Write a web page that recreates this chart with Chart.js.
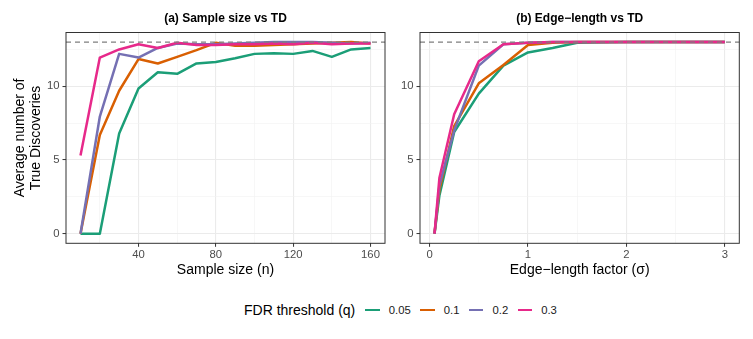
<!DOCTYPE html>
<html>
<head>
<meta charset="utf-8">
<script src="https://cdn.jsdelivr.net/npm/chart.js@4"></script>
<style>
	body { margin: 0; background: #fff; width: 753px; height: 339px; position: relative; overflow: hidden; font-family: "Liberation Sans", Arial, sans-serif; }
	#graph_sample { position: absolute; left: 0; top: 0; }
	#graph_edge { position: absolute; left: 395px; top: 0; }
	#legend { position: absolute; left: 244px; top: 301px; height: 18px; display: flex; align-items: center; white-space: nowrap; color: #000; }
	#legend .title { font-size: 14px; margin-right: 10px; }
	#legend .key { width: 14.5px; height: 2.6px; margin-right: 9px; }
	#legend .lab { font-size: 11.3px; margin-right: 9.5px; color: #1a1a1a; }
</style>
</head>
<body>
<canvas id="graph_sample" width="395" height="290"></canvas>
<canvas id="graph_edge" width="358" height="290"></canvas>
<div id="legend"></div>
<script>
// thresholds + colours (Dark2)
var fdrLevels = ["0.05", "0.1", "0.2", "0.3"];
var fdrColors = ["#1B9E77", "#D95F02", "#7570B3", "#E7298A"];
var trueDiscoveries = 13;

// (a) sample size
var sampleSizes = [10, 20, 30, 40, 50, 60, 70, 80, 90, 100, 110, 120, 130, 140, 150, 160];
var tdSample005 = [0, 0, 6.8, 9.85, 10.95, 10.85, 11.55, 11.65, 11.9, 12.2, 12.25, 12.2, 12.4, 12.0, 12.5, 12.6];
var tdSample01 = [0, 6.7, 9.7, 11.85, 11.55, 12.0, 12.45, 12.95, 12.75, 12.75, 12.8, 12.85, 12.9, 12.95, 13.0, 12.9];
var tdSample02 = [0, 7.95, 12.2, 11.95, 12.6, 12.9, 12.85, 12.85, 12.9, 12.95, 13.0, 13.0, 13.0, 12.95, 12.9, 12.95];
var tdSample03 = [5.3, 11.95, 12.5, 12.85, 12.6, 12.95, 12.8, 12.8, 12.85, 12.85, 12.9, 12.85, 12.95, 12.85, 12.9, 12.9];

// (b) edge-length factor
var edgeFactors = [0.05, 0.1, 0.25, 0.5, 0.75, 1, 1.25, 1.5, 2, 2.5, 3];
var tdEdge005 = [0, 2.6, 6.9, 9.5, 11.4, 12.3, 12.6, 12.95, 13, 13, 13];
var tdEdge01 = [0, 3.0, 7.3, 10.2, 11.45, 12.8, 12.95, 13, 13, 13, 13];
var tdEdge02 = [0, 3.3, 7.0, 11.4, 12.85, 12.95, 13, 13, 13, 13, 13];
var tdEdge03 = [0, 3.8, 8.1, 11.7, 12.85, 12.95, 13, 13, 13, 13, 13];

// ticks (major ones get labels)
var sampleTicks = [20, 40, 60, 80, 100, 120, 140, 160];
var sampleLabels = [40, 80, 120, 160];
var edgeTicks = [0, 0.5, 1, 1.5, 2, 2.5, 3];
var edgeLabels = [0, 1, 2, 3];
var tdTicks = [0, 2.5, 5, 7.5, 10, 12.5];
var tdLabels = [0, 5, 10];

var FONT = '"Liberation Sans", Arial, sans-serif';

function makeDatasets(xs, series){
	return series.map(function(ys, i){
		return {
			label: fdrLevels[i],
			data: xs.map(function(x, k){ return {x: x, y: ys[k]}; }),
			borderColor: fdrColors[i],
			backgroundColor: fdrColors[i],
			borderWidth: 2.5,
			borderJoinStyle: 'round',
			pointRadius: 0,
			fill: false,
			order: series.length - 1 - i
		};
	});
}

function isMajor(list, v){
	return list.some(function(m){ return Math.abs(m - v) < 1e-9; });
}

function gridOpts(majors){
	return {
		color: function(ctx){ return isMajor(majors, ctx.tick ? ctx.tick.value : NaN) ? '#EBEBEB' : '#F2F2F2'; },
		lineWidth: function(ctx){ return isMajor(majors, ctx.tick ? ctx.tick.value : NaN) ? 1.1 : 0.6; },
		tickColor: function(ctx){ return isMajor(majors, ctx.tick ? ctx.tick.value : NaN) ? '#333333' : 'rgba(0,0,0,0)'; },
		tickLength: 3.5,
		tickWidth: 1
	};
}

// dashed reference line + panel border
var panelExtras = {
	id: 'panelExtras',
	afterDatasetsDraw: function(chart){
		var ctx = chart.ctx, a = chart.chartArea;
		var y = chart.scales.y.getPixelForValue(trueDiscoveries);
		ctx.save();
		ctx.strokeStyle = '#7F7F7F';
		ctx.lineWidth = 1.2;
		ctx.setLineDash([5, 4]);
		ctx.beginPath();
		ctx.moveTo(a.left, y);
		ctx.lineTo(a.right, y);
		ctx.stroke();
		ctx.restore();
	},
	afterDraw: function(chart){
		var ctx = chart.ctx, a = chart.chartArea;
		ctx.save();
		ctx.strokeStyle = '#333333';
		ctx.lineWidth = 1;
		ctx.strokeRect(a.left, a.top, a.right - a.left, a.bottom - a.top);
		ctx.restore();
	}
};

function makeConfig(opt){
	return {
		type: 'line',
		data: { datasets: makeDatasets(opt.xs, opt.series) },
		options: {
			responsive: false,
			animation: false,
			devicePixelRatio: 1,
			layout: { padding: { left: 0, right: opt.rightPad, top: 0, bottom: 0 } },
			scales: {
				x: {
					type: 'linear',
					min: opt.xMin,
					max: opt.xMax,
					afterBuildTicks: function(s){ s.ticks = opt.xTicks.map(function(v){ return {value: v}; }); },
					afterFit: function(s){ s.height = 290 - 243.3; },
					ticks: {
						autoSkip: false,
						maxRotation: 0,
						padding: 1.5,
						color: '#4D4D4D',
						font: { family: FONT, size: 11.3 },
						callback: function(v){ return isMajor(opt.xLabels, v) ? String(v) : ''; }
					},
					grid: gridOpts(opt.xLabels),
					border: { display: false },
					title: {
						display: true,
						text: opt.xTitle,
						color: '#000',
						font: { family: FONT, size: 14 },
						padding: { top: 0, bottom: 11.6 }
					}
				},
				y: {
					type: 'linear',
					min: -0.65,
					max: 13.65,
					afterBuildTicks: function(s){ s.ticks = tdTicks.map(function(v){ return {value: v}; }); },
					afterFit: function(s){ s.width = opt.yWidth; },
					ticks: {
						padding: 3,
						color: '#4D4D4D',
						font: { family: FONT, size: 11.3 },
						callback: function(v){ return isMajor(tdLabels, v) ? String(v) : ''; }
					},
					grid: gridOpts(tdLabels),
					border: { display: false },
					title: {
						display: opt.yTitle != null,
						text: opt.yTitle || '',
						color: '#000',
						font: { family: FONT, size: 14, lineHeight: 1.12 },
						padding: { top: 12.5, bottom: 0 }
					}
				}
			},
			plugins: {
				legend: { display: false },
				tooltip: { enabled: false },
				title: {
					display: true,
					text: opt.title,
					fullSize: false,
					color: '#000',
					font: { family: FONT, size: 12, weight: 'bold', lineHeight: 1.2 },
					padding: { top: 11.5, bottom: 6.6 }
				}
			}
		},
		plugins: [panelExtras]
	};
}

var graph_chart_sample;
var graph_chart_edge;

document.addEventListener("DOMContentLoaded", function(){
	graph_chart_sample = new Chart(document.getElementById("graph_sample").getContext('2d'), makeConfig({
		xs: sampleSizes,
		series: [tdSample005, tdSample01, tdSample02, tdSample03],
		xMin: 2.5, xMax: 167.5,
		xTicks: sampleTicks, xLabels: sampleLabels,
		xTitle: 'Sample size (n)',
		yTitle: ['Average number of', 'True Discoveries'],
		yWidth: 66, rightPad: 10,
		title: '(a) Sample size vs TD'
	}));
	graph_chart_edge = new Chart(document.getElementById("graph_edge").getContext('2d'), makeConfig({
		xs: edgeFactors,
		series: [tdEdge005, tdEdge01, tdEdge02, tdEdge03],
		xMin: -0.0975, xMax: 3.1475,
		xTicks: edgeTicks, xLabels: edgeLabels,
		xTitle: 'Edge\u2212length factor (\u03C3)',
		yTitle: null,
		yWidth: 25, rightPad: 13.7,
		title: '(b) Edge\u2212length vs TD'
	}));

	// legend
	var leg = document.getElementById('legend');
	var t = document.createElement('span');
	t.className = 'title';
	t.textContent = 'FDR threshold (q)';
	leg.appendChild(t);
	fdrLevels.forEach(function(lv, i){
		var k = document.createElement('span');
		k.className = 'key';
		k.style.background = fdrColors[i];
		leg.appendChild(k);
		var l = document.createElement('span');
		l.className = 'lab';
		l.textContent = lv;
		leg.appendChild(l);
	});
});
</script>
</body>
</html>
